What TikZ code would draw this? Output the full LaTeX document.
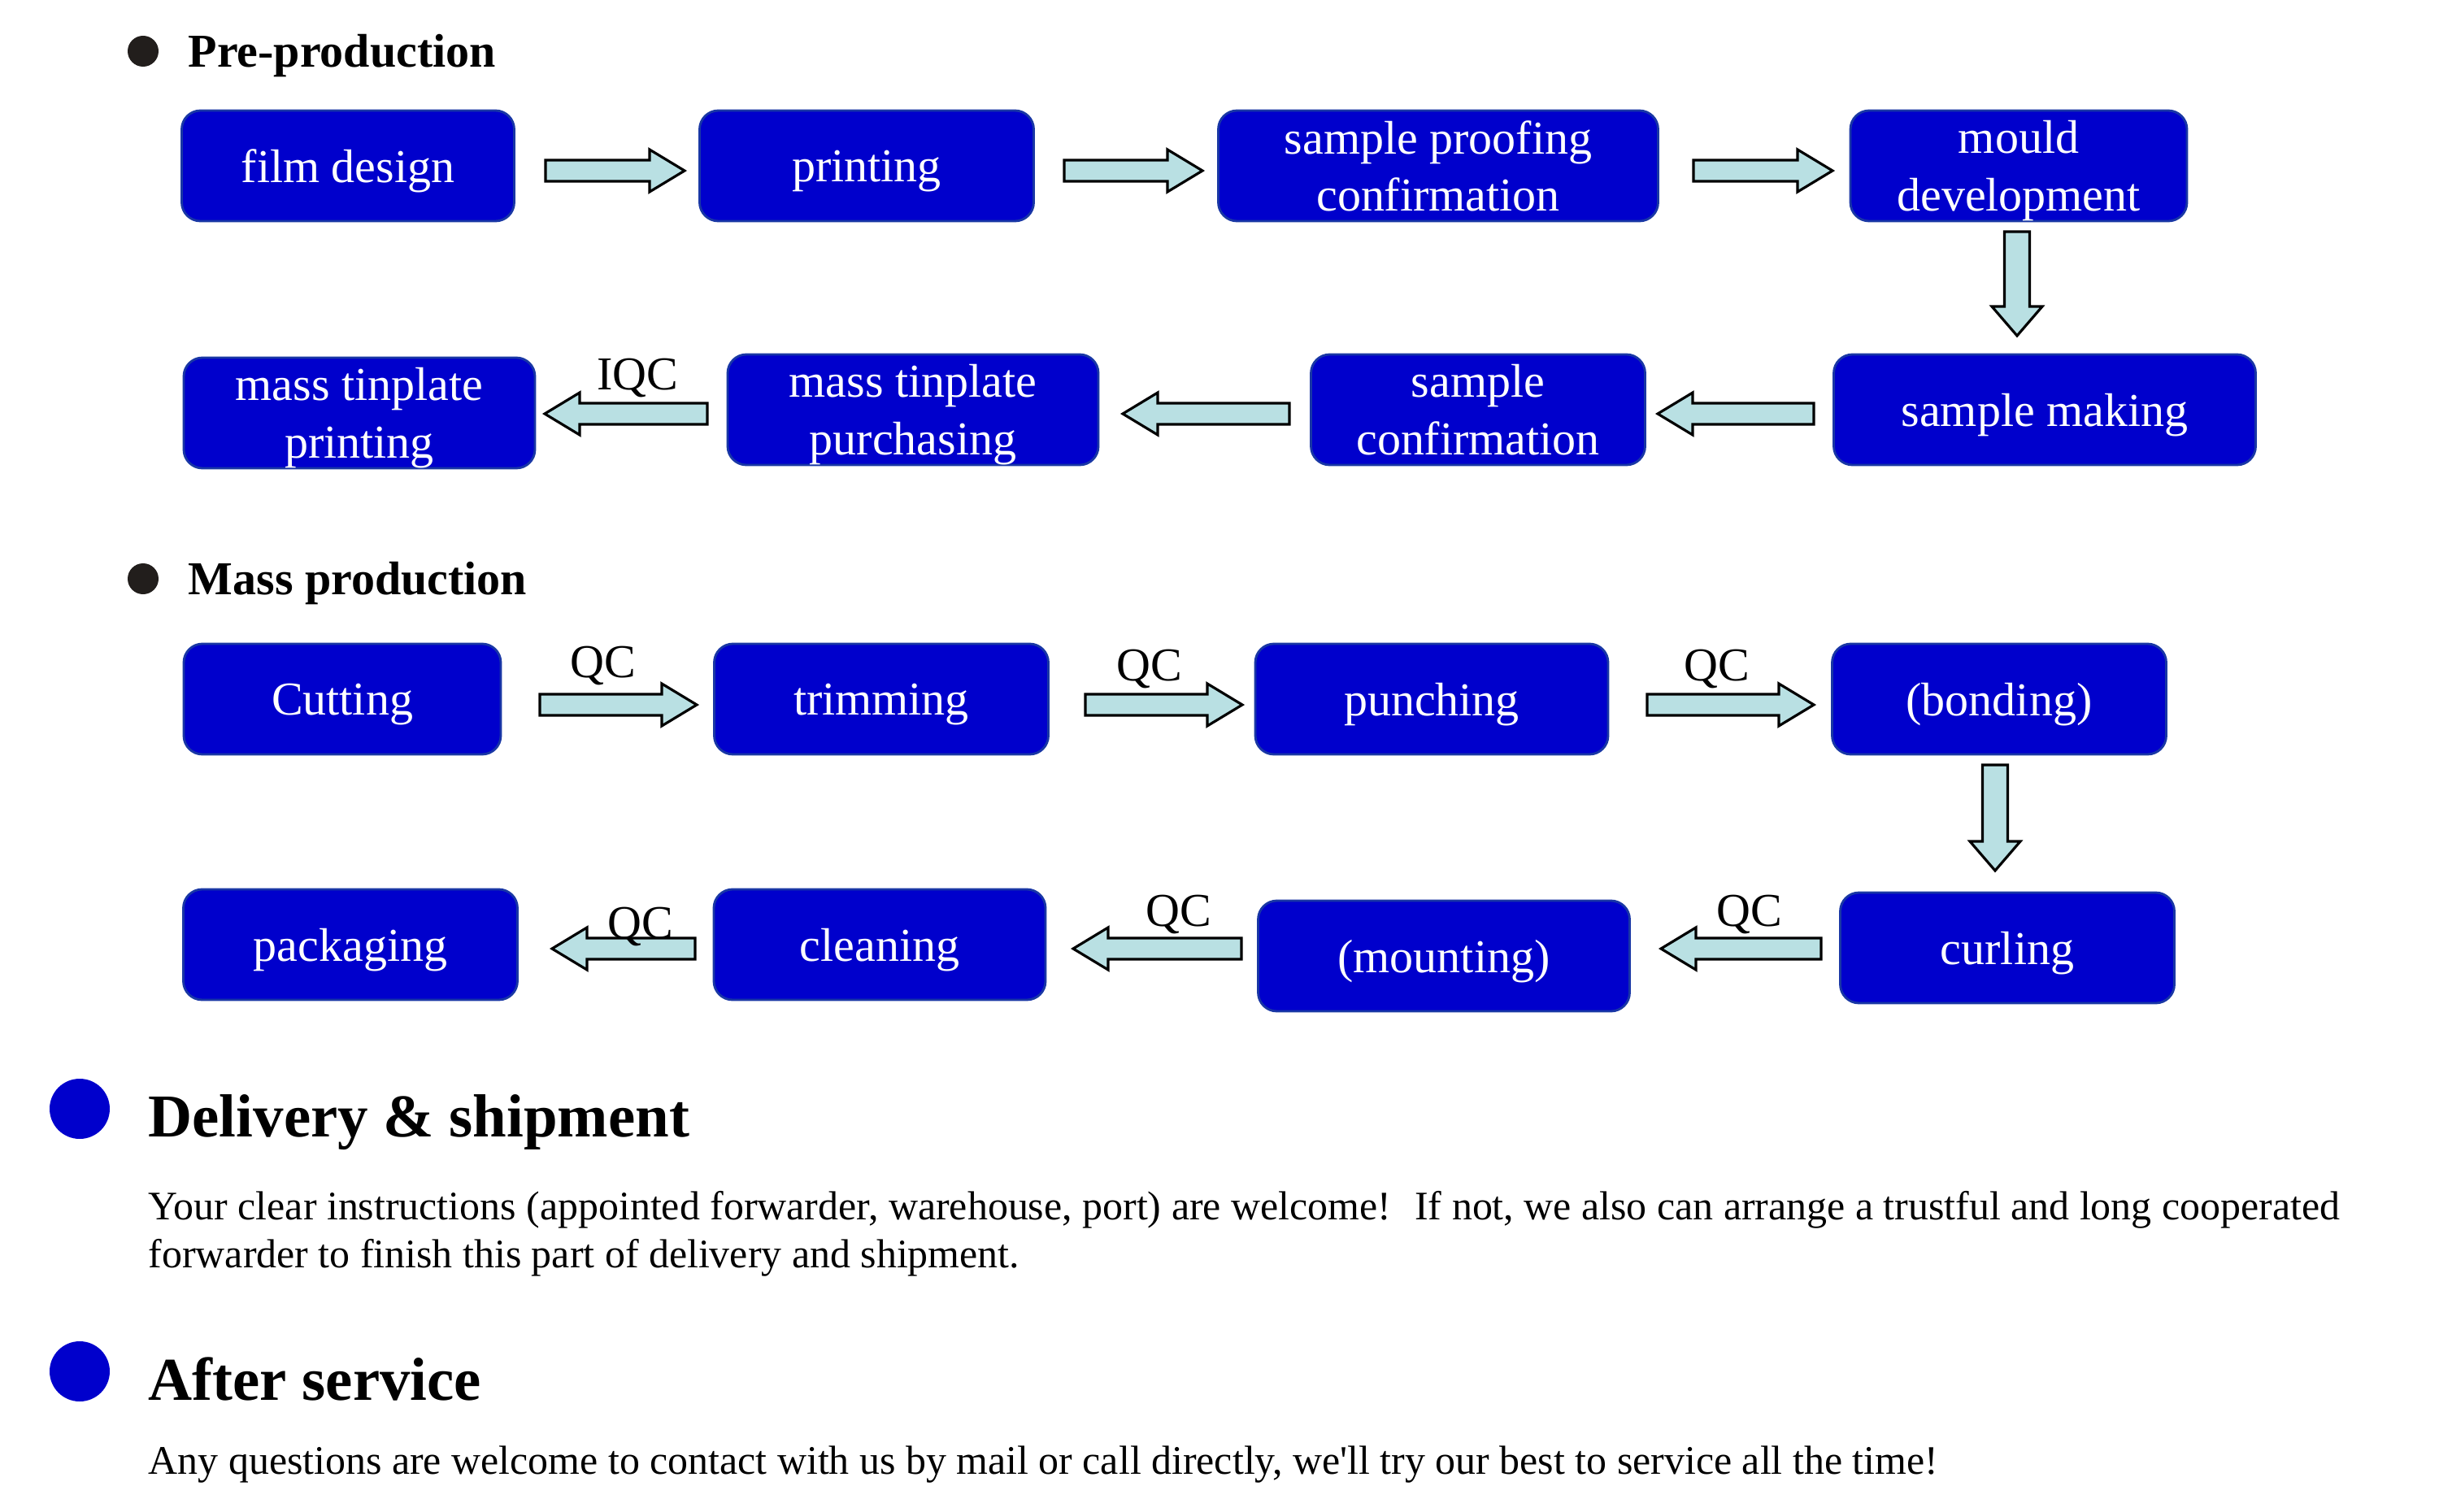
\documentclass[tikz,border=0pt]{standalone}
\usepackage{fontspec}
\setmainfont{Liberation Serif}
\usepackage{tikz}
\usetikzlibrary{calc}

\definecolor{boxblue}{RGB}{0,0,204}
\definecolor{boxline}{RGB}{25,55,165}
\definecolor{arrfill}{RGB}{185,224,227}
\definecolor{dotblack}{RGB}{34,30,28}

% block arrow sizes: half shaft, half head, head length
\def\arrsw{1.3mm} \def\arrhw{2.6mm} \def\arrhl{4.3mm}
% block arrow from tail #1 to tip #2
\newcommand\blockarrow[2]{%
	\coordinate (bh) at ($(#2)!\arrhl!(#1)$);
	\draw[blockarr] ($(#1)!\arrsw!90:(#2)$) -- ($(bh)!\arrsw!90:(#2)$) -- ($(bh)!\arrhw!90:(#2)$)
	-- (#2) -- ($(bh)!\arrhw!-90:(#2)$) -- ($(bh)!\arrsw!-90:(#2)$) -- ($(#1)!\arrsw!-90:(#2)$) -- cycle;
}

\begin{document}
\begin{tikzpicture}[x=1mm, y=-1mm,
	stage/.style={rectangle, rounded corners=2.3mm, draw=boxline, line width=0.8pt,
		fill=boxblue, text=white, align=center, inner sep=0pt, text depth=0pt,
		font=\fontsize{16.5}{20}\selectfont},
	blockarr/.style={draw=black, line width=0.9pt, fill=arrfill, line join=miter},
	qc/.style={font=\fontsize{16.5}{20}\selectfont, inner sep=0pt},
	sechead/.style={anchor=base west, inner sep=0pt, font=\bfseries\fontsize{16.5}{20}\selectfont},
	bighead/.style={anchor=base west, inner sep=0pt, font=\bfseries\fontsize{21.3}{26}\selectfont},
	bodytext/.style={anchor=base west, inner sep=0pt, font=\fontsize{14.2}{17}\selectfont}]
	
	\useasboundingbox (0,0) rectangle (300,186);
	
	% 1. Pre-production
	\fill[dotblack] (17.6,6.3) circle (1.9);
	\node[sechead] (pre) at (23.1,8.3) {Pre-production};
	
	\node[stage, minimum width=40.9mm, minimum height=13.6mm] (fd) at (42.8,20.4) {film design};
	\node[stage, minimum width=41.1mm, minimum height=13.6mm] (pr) at (106.6,20.4) {printing};
	\node[stage, minimum width=54.1mm, minimum height=13.6mm] (sp) at (176.9,20.4) {sample proofing\\confirmation};
	\node[stage, minimum width=41.4mm, minimum height=13.6mm] (md) at (248.3,20.4) {mould\\development};
	
	\node[stage, minimum width=43.2mm, minimum height=13.6mm] (mp) at (44.2,50.8) {mass tinplate\\printing};
	\node[stage, minimum width=45.6mm, minimum height=13.6mm] (pu) at (112.3,50.4) {mass tinplate\\purchasing};
	\node[stage, minimum width=41.1mm, minimum height=13.6mm] (sc) at (181.8,50.4) {sample\\confirmation};
	\node[stage, minimum width=51.9mm, minimum height=13.6mm] (sm) at (251.5,50.4) {sample making};
	
	% arrows of the first loop
	\coordinate (a1t) at (67.1,21.0);  \coordinate (a1h) at (84.2,21.0);
	\coordinate (a2t) at (130.9,21.0); \coordinate (a2h) at (147.9,21.0);
	\coordinate (a3t) at (208.3,21.0); \coordinate (a3h) at (225.4,21.0);
	\blockarrow{a1t}{a1h}
	\blockarrow{a2t}{a2h}
	\blockarrow{a3t}{a3h}
	
	\coordinate (a4t) at (223.1,50.9); \coordinate (a4h) at (203.9,50.9);
	\coordinate (a5t) at (158.6,50.9); \coordinate (a5h) at (138.1,50.9);
	\coordinate (a6t) at (87.0,50.9);  \coordinate (a6h) at (67.0,50.9);
	\blockarrow{a4t}{a4h}
	\blockarrow{a5t}{a5h}
	\blockarrow{a6t}{a6h}
	\node[qc] (iqc) at (78.4,46.5) {IQC};
	
	% 2. Mass production
	\fill[dotblack] (17.6,71.2) circle (1.9);
	\node[sechead] (mass) at (23.1,73.1) {Mass production};
	
	\node[stage, minimum width=39.0mm, minimum height=13.6mm] (cu) at (42.1,86.0) {Cutting};
	\node[stage, minimum width=41.1mm, minimum height=13.6mm] (tr) at (108.4,86.0) {trimming};
	\node[stage, minimum width=43.4mm, minimum height=13.6mm] (pn) at (176.1,86.0) {punching};
	\node[stage, minimum width=41.1mm, minimum height=13.6mm] (bo) at (245.9,86.0) {(bonding)};
	
	\node[stage, minimum width=41.1mm, minimum height=13.6mm] (pk) at (43.1,116.2) {packaging};
	\node[stage, minimum width=40.8mm, minimum height=13.6mm] (cl) at (108.2,116.2) {cleaning};
	\node[stage, minimum width=45.7mm, minimum height=13.6mm] (mo) at (177.6,117.6) {(mounting)};
	\node[stage, minimum width=41.1mm, minimum height=13.6mm] (cr) at (246.9,116.6) {curling};
	
	% arrows of the second loop
	\coordinate (b1t) at (66.4,86.7);  \coordinate (b1h) at (85.7,86.7);
	\coordinate (b2t) at (133.5,86.7); \coordinate (b2h) at (152.8,86.7);
	\coordinate (b3t) at (202.6,86.7); \coordinate (b3h) at (223.1,86.7);
	\blockarrow{b1t}{b1h}
	\blockarrow{b2t}{b2h}
	\blockarrow{b3t}{b3h}
	\node[qc] (qc1) at (74.2,81.9) {QC};
	\node[qc] (qc2) at (141.4,82.3) {QC};
	\node[qc] (qc3) at (211.2,82.3) {QC};
	
	\coordinate (b4t) at (224.0,116.7); \coordinate (b4h) at (204.3,116.7);
	\coordinate (b5t) at (152.7,116.7); \coordinate (b5h) at (132.0,116.7);
	\coordinate (b6t) at (85.5,116.7);  \coordinate (b6h) at (67.9,116.7);
	\blockarrow{b4t}{b4h}
	\blockarrow{b5t}{b5h}
	\blockarrow{b6t}{b6h}
	\node[qc] (qc4) at (215.2,112.5) {QC};
	\node[qc] (qc5) at (145.0,112.5) {QC};
	\node[qc] (qc6) at (78.8,114.0) {QC};
	
	% the two downward arrows
	\def\arrsw{1.55mm} \def\arrhw{3.1mm} \def\arrhl{3.6mm}
	\coordinate (d1t) at (248.1,28.5); \coordinate (d1h) at (248.1,41.3);
	\coordinate (d2t) at (245.4,94.1); \coordinate (d2h) at (245.4,107.1);
	\blockarrow{d1t}{d1h}
	\blockarrow{d2t}{d2h}
	
	% 3. Delivery and after service
	\fill[boxblue] (9.8,136.4) circle (3.7);
	\node[bighead] (del) at (18.2,139.8) {Delivery \& shipment};
	\node[bodytext] (del1) at (18.2,150.0) {Your clear instructions (appointed forwarder, warehouse, port) are welcome!~ If not, we also can arrange a trustful and long cooperated};
	\node[bodytext] (del2) at (18.2,155.9) {forwarder to finish this part of delivery and shipment.};
	
	\fill[boxblue] (9.8,168.7) circle (3.7);
	\node[bighead] (aft) at (18.2,172.2) {After service};
	\node[bodytext] (aft1) at (18.2,181.3) {Any questions are welcome to contact with us by mail or call directly, we\textquotesingle ll try our best to service all the time!};
	
\end{tikzpicture}
\end{document}
